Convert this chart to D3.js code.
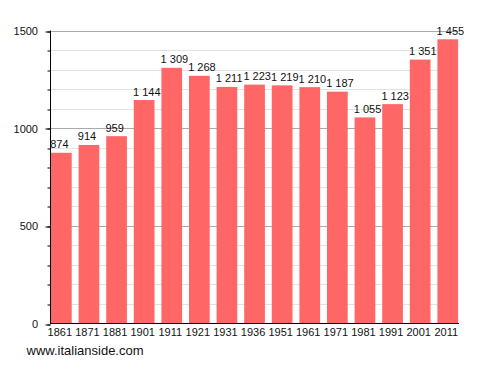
<!DOCTYPE html>
<html>
<head>
<meta charset="utf-8">
<script src="https://cdn.jsdelivr.net/npm/d3@7"></script>
<style>
  html, body { margin: 0; padding: 0; background: #fff; }
  svg { display: block; font-family: "Liberation Sans", Arial, sans-serif; }
</style>
</head>
<body>
<script>
const years = ["1861","1871","1881","1901","1911","1921","1931","1936","1951","1961","1971","1981","1991","2001","2011"];
const population = [874, 914, 959, 1144, 1309, 1268, 1211, 1223, 1219, 1210, 1187, 1055, 1123, 1351, 1455];
const majorTicks = [0, 500, 1000, 1500];
const minorTicks = d3.range(0, 1501, 100);
const sourceText = "www.italianside.com";

const W = 488, H = 373;
const svg = d3.select("body").append("svg").attr("width", W).attr("height", H);

const x = d3.scaleBand().domain(years).range([51, 458.1]).paddingInner(0.25).paddingOuter(0);
const y = d3.scaleLinear().domain([0, 1500]).range([323.5, 30.5]);

const fmt = v => {
  const s = String(v);
  return s.length > 3 ? s.slice(0, s.length - 3) + " " + s.slice(-3) : s;
};

// gridlines
svg.append("g").selectAll("line").data(minorTicks.filter(t => t % 500 !== 0)).join("line")
  .attr("x1", 50).attr("x2", 458).attr("y1", d => Math.round(y(d)) + 0.5).attr("y2", d => Math.round(y(d)) + 0.5)
  .attr("stroke", "#e2e2e2").attr("stroke-width", 1);
svg.append("g").selectAll("line").data(majorTicks.filter(t => t > 0)).join("line")
  .attr("x1", 50).attr("x2", 458).attr("y1", d => Math.round(y(d)) + 0.5).attr("y2", d => Math.round(y(d)) + 0.5)
  .attr("stroke", "#aaaaaa").attr("stroke-width", 1);

// bars
svg.append("g").selectAll("rect").data(population).join("rect")
  .attr("x", (d, i) => x(years[i]))
  .attr("width", x.bandwidth())
  .attr("y", d => y(d))
  .attr("height", d => y(0) - y(d))
  .attr("fill", "#ff6666");

// value labels (left-aligned at bar start)
svg.append("g").selectAll("text").data(population).join("text")
  .attr("x", (d, i) => x(years[i]) - 0.8)
  .attr("y", d => y(d) - 4.5)
  .attr("font-size", 11)
  .attr("fill", "#111")
  .text(d => fmt(d));

// axes
const minorAxis = d3.axisLeft(y).tickValues(minorTicks).tickSize(3).tickFormat("");
const gMinor = svg.append("g").attr("transform", "translate(50.5,0)").call(minorAxis);
gMinor.select(".domain").remove();
gMinor.selectAll("line").attr("stroke", "#000").attr("transform", d => `translate(0,${Math.round(y(d)) + 0.5 - y(d)})`);

const yAxis = d3.axisLeft(y).tickValues(majorTicks).tickSize(5).tickPadding(8).tickFormat(d3.format("d"));
const gy = svg.append("g").attr("transform", "translate(50.5,0)").call(yAxis);
gy.select(".domain").remove();
gy.selectAll("line").attr("stroke", "#000").attr("transform", d => `translate(0,${Math.round(y(d)) + 0.5 - y(d)})`);
gy.selectAll("text").attr("font-size", 11).attr("font-family", "Liberation Sans, Arial, sans-serif").attr("fill", "#111").attr("dy", "0.36em").attr("x", -12.5);

svg.append("line").attr("x1", 50.5).attr("x2", 50.5).attr("y1", 30.5).attr("y2", 324).attr("stroke", "#000");
svg.append("line").attr("x1", 50).attr("x2", 459).attr("y1", 323.5).attr("y2", 323.5).attr("stroke", "#000");

// x labels
svg.append("g").selectAll("text").data(years).join("text")
  .attr("x", d => x(d) + x.bandwidth() / 2 - 1.5)
  .attr("y", 336)
  .attr("text-anchor", "middle")
  .attr("font-size", 11)
  .attr("fill", "#111")
  .text(d => d);

svg.append("text").attr("x", 26.5).attr("y", 355).attr("font-size", 13).attr("fill", "#111").text(sourceText);
</script>
</body>
</html>
